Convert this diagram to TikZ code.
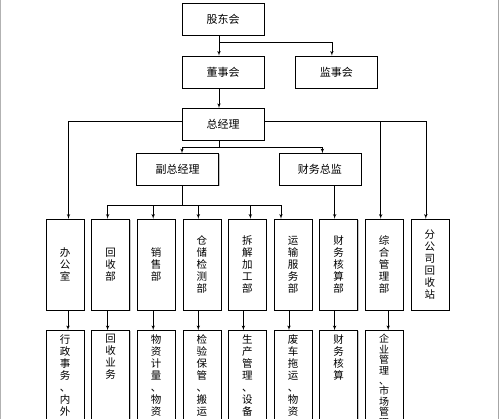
\documentclass[tikz,border=0pt]{standalone}
\usepackage{fontspec}
\setmainfont{Noto Sans CJK SC}
\usepackage{tikz}
\usetikzlibrary{shapes,arrows}
\usetikzlibrary{positioning,shadows}

\newcommand{\dutytext}[1]{\parbox[t][100pt][t]{30pt}{\centering #1}}

\begin{document}
\begin{tikzpicture}[x=1pt, y=-1pt, node distance = 20pt, auto,
			box/.style={
					rectangle,
					draw,
					fill=white,
					minimum width=82pt,
					minimum height=32pt,
					inner sep=0pt,
					font=\fontsize{11}{12}\selectfont,
					drop shadow={shadow xshift=1pt, shadow yshift=-1pt, fill=black!45}
				},
			dept/.style={box, minimum width=38pt, minimum height=91pt, align=center, font=\fontsize{10.5}{12}\selectfont},
			duty/.style={box, minimum width=38pt, inner sep=4pt, font=\fontsize{10.5}{12}\selectfont},
			line/.style={draw, line width=0.6pt, -latex'}
		]
		\clip (0,0) rectangle (500,419);
		\useasboundingbox (0,0) rectangle (500,419);
		\fill [white] (0,0) rectangle (500,419);
		\draw [black!30, line width=1pt] (0.5,0) -- (0.5,419);
		\draw [black!35, line width=1pt] (498.7,0) -- (498.7,419);
		% Place nodes
		\node [box] (gdh) at (223,19.5) {股东会};
		\node [box, below=of gdh] (dsh) {董事会};
		\node [box, right=31pt of dsh] (jsh) {监事会};
		\node [box, below=of dsh] (zjl) {总经理};
		\node [box] (fzjl) at (177.5,169.5) {副总经理};
		\node [box, right=60pt of fzjl] (cwzj) {财务总监};
		% departments
		\node [dept] (bgs) at (65,264.5) {办\\公\\室};
		\node [dept, right=7.2pt of bgs] (hsb) {回\\收\\部};
		\node [dept, right=7.2pt of hsb] (xsb) {销\\售\\部};
		\node [dept, right=7.2pt of xsb] (ccjc) {仓\\储\\检\\测\\部};
		\node [dept, right=7.2pt of ccjc] (cjjg) {拆\\解\\加\\工\\部};
		\node [dept, right=7.2pt of cjjg] (ysfw) {运\\输\\服\\务\\部};
		\node [dept, right=7.2pt of ysfw] (cwhs) {财\\务\\核\\算\\部};
		\node [dept, right=7.2pt of cwhs] (zhgl) {综\\合\\管\\理\\部};
		\node [dept, right=7.2pt of zhgl] (fgs) {分\\公\\司\\回\\收\\站};
		% duties
		\node [duty, below=of bgs] (bgsd) {\dutytext{行\\政\\事\\务\\、\\内\\外}};
		\node [duty, below=of hsb] (hsbd) {\dutytext{回\\收\\业\\务}};
		\node [duty, below=of xsb] (xsbd) {\dutytext{物\\资\\计\\量\\、\\物\\资}};
		\node [duty, below=of ccjc] (ccjcd) {\dutytext{检\\验\\保\\管\\、\\搬\\运}};
		\node [duty, below=of cjjg] (cjjgd) {\dutytext{生\\产\\管\\理\\、\\设\\备}};
		\node [duty, below=of ysfw] (ysfwd) {\dutytext{废\\车\\拖\\运\\、\\物\\资}};
		\node [duty, below=of cwhs] (cwhsd) {\dutytext{财\\务\\核\\算}};
		\node [duty, below=of zhgl, font=\fontsize{10}{10.4}\selectfont] (zhgld) {\dutytext{企\\业\\管\\理\\、\\市\\场\\管\\理}};
		% Draw edges
		\path [line] ([xshift=-4pt]gdh.south) -- ([xshift=-4pt]dsh.north);
		\path [line] ([xshift=-4pt,yshift=-7pt]gdh.south) -| ([xshift=-4.5pt]jsh.north);
		\path [line] ([xshift=-4pt]dsh.south) -- ([xshift=-4pt]zjl.north);
		\path [line] ([yshift=3pt]zjl.west) -| ([xshift=3.5pt]bgs.north);
		\path [line] ([yshift=3pt]zjl.east) -| ([xshift=-3.5pt]zhgl.north);
		\path [line] ([yshift=3pt]zjl.east) -| ([xshift=-4pt]fgs.north);
		\draw [line width=0.6pt] ([xshift=-4pt]zjl.south) -- ++(0,-7pt) coordinate (zjlb);
		\path [line] (zjlb) -| ([xshift=4.5pt]fzjl.north);
		\path [line] (zjlb) -| ([xshift=2.5pt]cwzj.north);
		\draw [line width=0.6pt] ([xshift=4.5pt]fzjl.south) -- ++(0,-20pt) coordinate (fzjlb);
		\path [line] (fzjlb) -| ([xshift=-3pt]hsb.north);
		\path [line] (fzjlb) -| ([xshift=-3pt]xsb.north);
		\path [line] (fzjlb) -| ([xshift=-3.5pt]ccjc.north);
		\path [line] (fzjlb) -| ([xshift=3pt]cjjg.north);
		\path [line] (fzjlb) -| ([xshift=-12pt]ysfw.north);
		\path [line] ([xshift=-4pt]cwhs.north |- cwzj.south) -- ([xshift=-4pt]cwhs.north);
		\path [line] ([xshift=3pt]bgs.south) -- ([xshift=3pt]bgsd.north);
		\path [line] ([xshift=-3pt]hsb.south) -- ([xshift=-3pt]hsbd.north);
		\path [line] ([xshift=-3pt]xsb.south) -- ([xshift=-3pt]xsbd.north);
		\path [line] ([xshift=-3.5pt]ccjc.south) -- ([xshift=-3.5pt]ccjcd.north);
		\path [line] ([xshift=-4pt]cjjg.south) -- ([xshift=-4pt]cjjgd.north);
		\path [line] ([xshift=-4pt]ysfw.south) -- ([xshift=-4pt]ysfwd.north);
		\path [line] ([xshift=-4pt]cwhs.south) -- ([xshift=-4pt]cwhsd.north);
		\path [line] ([xshift=4pt]zhgl.south) -- ([xshift=4pt]zhgld.north);
	\end{tikzpicture}
\end{document}
